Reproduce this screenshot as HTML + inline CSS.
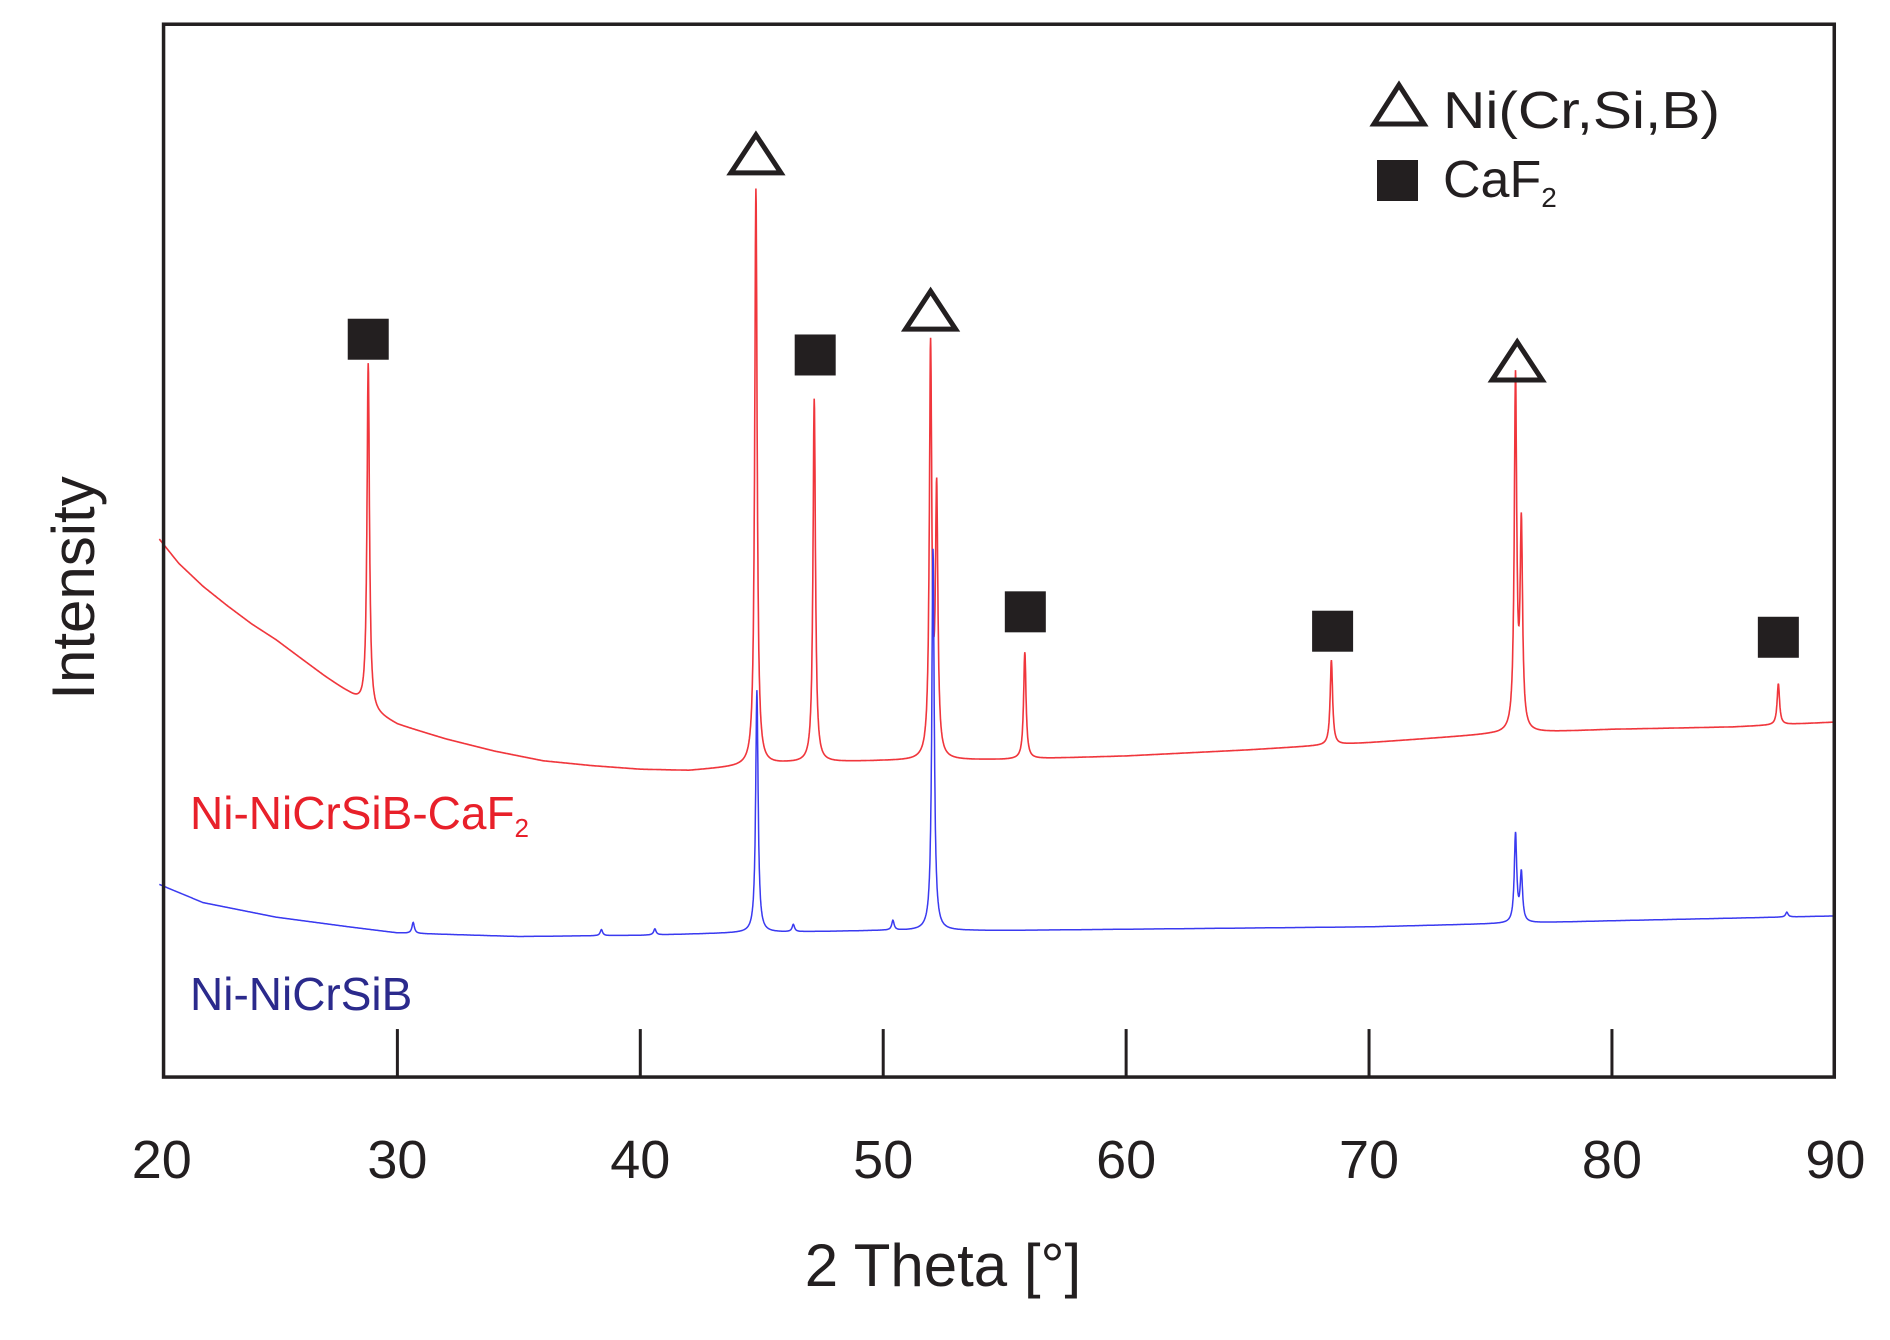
<!DOCTYPE html>
<html><head><meta charset="utf-8"><style>
html,body{margin:0;padding:0;background:#fff;}
svg{display:block;font-family:"Liberation Sans",Arial,sans-serif;}
</style></head><body>
<svg id="chart" width="1890" height="1340" viewBox="0 0 1890 1340" xmlns="http://www.w3.org/2000/svg">
<rect x="0" y="0" width="1890" height="1340" fill="#fff"/>
<g id="plot"></g>
</svg>
<script>
// ---- data (angle in degrees, intensity in arbitrary units) ----
const xTicks = [30, 40, 50, 60, 70, 80];
const xTickLabels = ["20","30","40","50","60","70","80","90"];
const xTickLabelValues = [20.3, 30, 40, 50, 60, 70, 80, 89.2];
const redBaseAngles = [20.2,21,22,23,24,25,26,27,28,29,30,32,34,36,38,40,42,44,46,50,55,60,65,70,75,80,85,89.2];
const redBaseValues = [444,424,405,389,374,361,346,331,317,301,291,279,269,261,257,254,253,256,259,261,262,265,270,276,283,287,289,293];
const redPeakAngles = [28.8,44.76,47.16,51.95,52.2,55.83,68.45,76.03,76.27,86.85];
const redPeakHeights = [285,476,300,337,215,88,70,290,165,34];
const blueBaseAngles = [20.2,22,25,28,30,35,40,44,50,55,60,70,76,80,89.2];
const blueBaseValues = [159,144,132,124,119,116,117,119,121,121,122,124,127,129,133];
const bluePeakAngles = [30.65,38.4,40.6,44.8,46.3,50.4,52.05,76.03,76.27,87.2];
const bluePeakHeights = [9,5,5,200,6,8,315,73,40,4];
const squareAngles = [28.8,47.2,55.85,68.5,86.85];
const squareLevels = [609,596,384,368,363];
const triangleAngles = [44.76,51.95,76.1];
const triangleLevels = [762,633,591];

// ---- axes ----
const S = 1890/1560;
const X0 = 135*S, X1 = 1514*S, Y0 = 20*S, Y1 = 889*S;
function xs(v){ return S*(328 + (v-30)*20.05); }
function ys(v){ return S*(889 - v); }

const NS = "http://www.w3.org/2000/svg";
const plot = document.getElementById("plot");
function mk(tag, attrs, parent){
  const e = document.createElementNS(NS, tag);
  for (const k in attrs) e.setAttribute(k, attrs[k]);
  (parent||plot).appendChild(e);
  return e;
}
function interp(ax, vals, a){
  if (a <= ax[0]) return vals[0];
  for (let i=1;i<ax.length;i++){
    if (a <= ax[i]){ const t=(a-ax[i-1])/(ax[i]-ax[i-1]); return vals[i-1]+t*(vals[i]-vals[i-1]); }
  }
  return vals[vals.length-1];
}
function series(bA,bV,pA,pH,w){
  let d="";
  for (let a=20.2;a<=89.2;a+=0.01){
    let v = interp(bA,bV,a);
    for (let i=0;i<pA.length;i++){ const u=(a-pA[i])/w; v += pH[i]/(1+u*u); }
    d += (d?"L":"M")+xs(a).toFixed(1)+","+ys(v).toFixed(1);
  }
  return d;
}

const red = mk("path",{d:series(redBaseAngles,redBaseValues,redPeakAngles,redPeakHeights,0.06),fill:"none",stroke:"#f0363c","stroke-width":"1.6"});


const blue = mk("path",{d:series(blueBaseAngles,blueBaseValues,bluePeakAngles,bluePeakHeights,0.06),fill:"none",stroke:"#3a3af0","stroke-width":"1.5"});



// frame
const frame = mk("rect",{x:X0,y:Y0,width:X1-X0,height:Y1-Y0,fill:"none",stroke:"#231f20","stroke-width":"3.5"});



// ticks
xTicks.forEach(v=>{
  const t = mk("line",{x1:xs(v),x2:xs(v),y1:Y1,y2:Y1-48,stroke:"#231f20","stroke-width":"3"});
  
  
});
xTickLabels.forEach((lab,i)=>{
  const t = mk("text",{x:xs(xTickLabelValues[i]),y:1178,"font-size":"54","text-anchor":"middle",fill:"#231f20"});
  t.textContent = lab;
  
  
});

// markers
squareAngles.forEach((a,i)=>{
  const s = 41, cx = xs(a), cy = ys(squareLevels[i]);
  const r = mk("rect",{x:cx-s/2,y:cy-s/2,width:s,height:s,fill:"#231f20"});
  
  
});
triangleAngles.forEach((a,i)=>{
  const cx = xs(a), cy = ys(triangleLevels[i]), w=50, h=38;
  const p = mk("polygon",{points:`${cx},${cy-h/2} ${cx+w/2},${cy+h/2} ${cx-w/2},${cy+h/2}`,fill:"none",stroke:"#231f20","stroke-width":"5","stroke-linejoin":"miter"});
  
  
});

// legend
const leg = mk("g",{});


const lt = mk("polygon",{points:"1399,85 1424,124 1374,124",fill:"none",stroke:"#231f20","stroke-width":"5"},leg);


const ltx = mk("text",{x:1443,y:128,"font-size":"52",fill:"#231f20",textLength:"277",lengthAdjust:"spacingAndGlyphs"},leg);
ltx.textContent="Ni(Cr,Si,B)";


const ls = mk("rect",{x:1377,y:160,width:41,height:41,fill:"#231f20"},leg);


const lsx = mk("text",{x:1443,y:197,"font-size":"52",fill:"#231f20"},leg);
lsx.innerHTML='CaF<tspan font-size="28" dy="10">2</tspan>';



// series labels
const rl = mk("text",{x:190,y:829,"font-size":"46",fill:"#e8202a"});
rl.innerHTML='Ni-NiCrSiB-CaF<tspan font-size="26" dy="8">2</tspan>';


const bl = mk("text",{x:190,y:1010,"font-size":"46",fill:"#2b2a8c"});
bl.textContent='Ni-NiCrSiB';



// axis titles
const xt = mk("text",{x:943,y:1286,"font-size":"60","text-anchor":"middle",fill:"#231f20"});
xt.textContent='2 Theta [°]';


const yt = mk("text",{x:0,y:0,"font-size":"60","text-anchor":"middle",fill:"#231f20",transform:"translate(94,588) rotate(-90)"});
yt.textContent='Intensity';


</script>
</body></html>
